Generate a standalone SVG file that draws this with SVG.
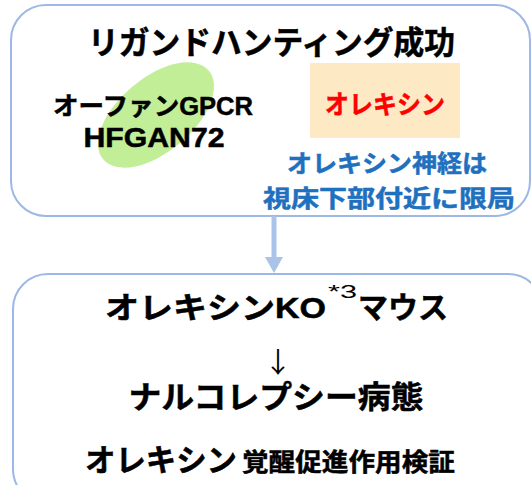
<svg xmlns="http://www.w3.org/2000/svg" width="531" height="485" viewBox="0 0 531 485">
<style>
.box{fill:#fff;stroke:#9cb8e6;stroke-width:2}
.t{font-family:"Liberation Sans","Noto Sans CJK JP",sans-serif;font-weight:bold;text-anchor:middle;stroke:currentColor;stroke-width:0.5}
.s{font-family:"Liberation Sans","Noto Sans CJK JP",sans-serif;font-weight:bold;stroke:currentColor;stroke-width:0.5}
.sup{font-family:"Liberation Sans",sans-serif;font-weight:normal}
</style>
<rect width="531" height="485" fill="#fff"/>
<g id="top">
<rect class="box" x="11" y="5" width="519" height="211" rx="35"/>
<text class="t" x="271.5" y="54" font-size="32" textLength="367" lengthAdjust="spacingAndGlyphs">リガンドハンティング成功</text>
</g>
<g id="gpcr">
<ellipse cx="156" cy="115" rx="69" ry="37" transform="rotate(-40 156 115)" fill="#c3ee98"/>
<text class="t" x="153" y="115" font-size="25" textLength="200" lengthAdjust="spacingAndGlyphs">オーファンGPCR</text>
<text class="t" x="154" y="147" font-size="27" textLength="141" lengthAdjust="spacingAndGlyphs">HFGAN72</text>
</g>
<g id="orexin">
<rect x="310" y="63" width="150" height="75" fill="#fde9c4"/>
<text class="t" x="385" y="114" font-size="26" fill="#ff0000" color="#ff0000" textLength="120" lengthAdjust="spacingAndGlyphs">オレキシン</text>
</g>
<g id="neuron">
<text class="t" x="387" y="172" font-size="24" fill="#1f70bf" color="#1f70bf" textLength="200" lengthAdjust="spacingAndGlyphs">オレキシン神経は</text>
<text class="t" x="389" y="207" font-size="24" fill="#1f70bf" color="#1f70bf" textLength="252" lengthAdjust="spacingAndGlyphs">視床下部付近に限局</text>
</g>
<g id="connectors">
<line x1="274" y1="216" x2="274" y2="260" stroke="#a9c4e8" stroke-width="5"/>
<polygon points="265,257 283,257 274,273" fill="#a9c4e8"/>
</g>
<g id="bottom">
<rect class="box" x="13" y="274" width="530" height="230" rx="35"/>
<text class="s" x="105" y="318" font-size="30" textLength="221" lengthAdjust="spacingAndGlyphs">オレキシンKO</text>
<text class="sup" x="328" y="298" font-size="18" textLength="29" lengthAdjust="spacingAndGlyphs">*3</text>
<text class="s" x="358" y="318" font-size="30" textLength="90" lengthAdjust="spacingAndGlyphs">マウス</text>
<text x="278" y="373" font-size="28" text-anchor="middle" font-family="Noto Sans CJK JP, sans-serif">↓</text>
<text class="t" x="276" y="408" font-size="31" textLength="295" lengthAdjust="spacingAndGlyphs">ナルコレプシー病態</text>
<text class="s" x="85" y="471" font-size="31" textLength="152" lengthAdjust="spacingAndGlyphs">オレキシン</text>
<text class="s" x="242" y="471" font-size="25" textLength="213" lengthAdjust="spacingAndGlyphs">覚醒促進作用検証</text>
</g>
</svg>
